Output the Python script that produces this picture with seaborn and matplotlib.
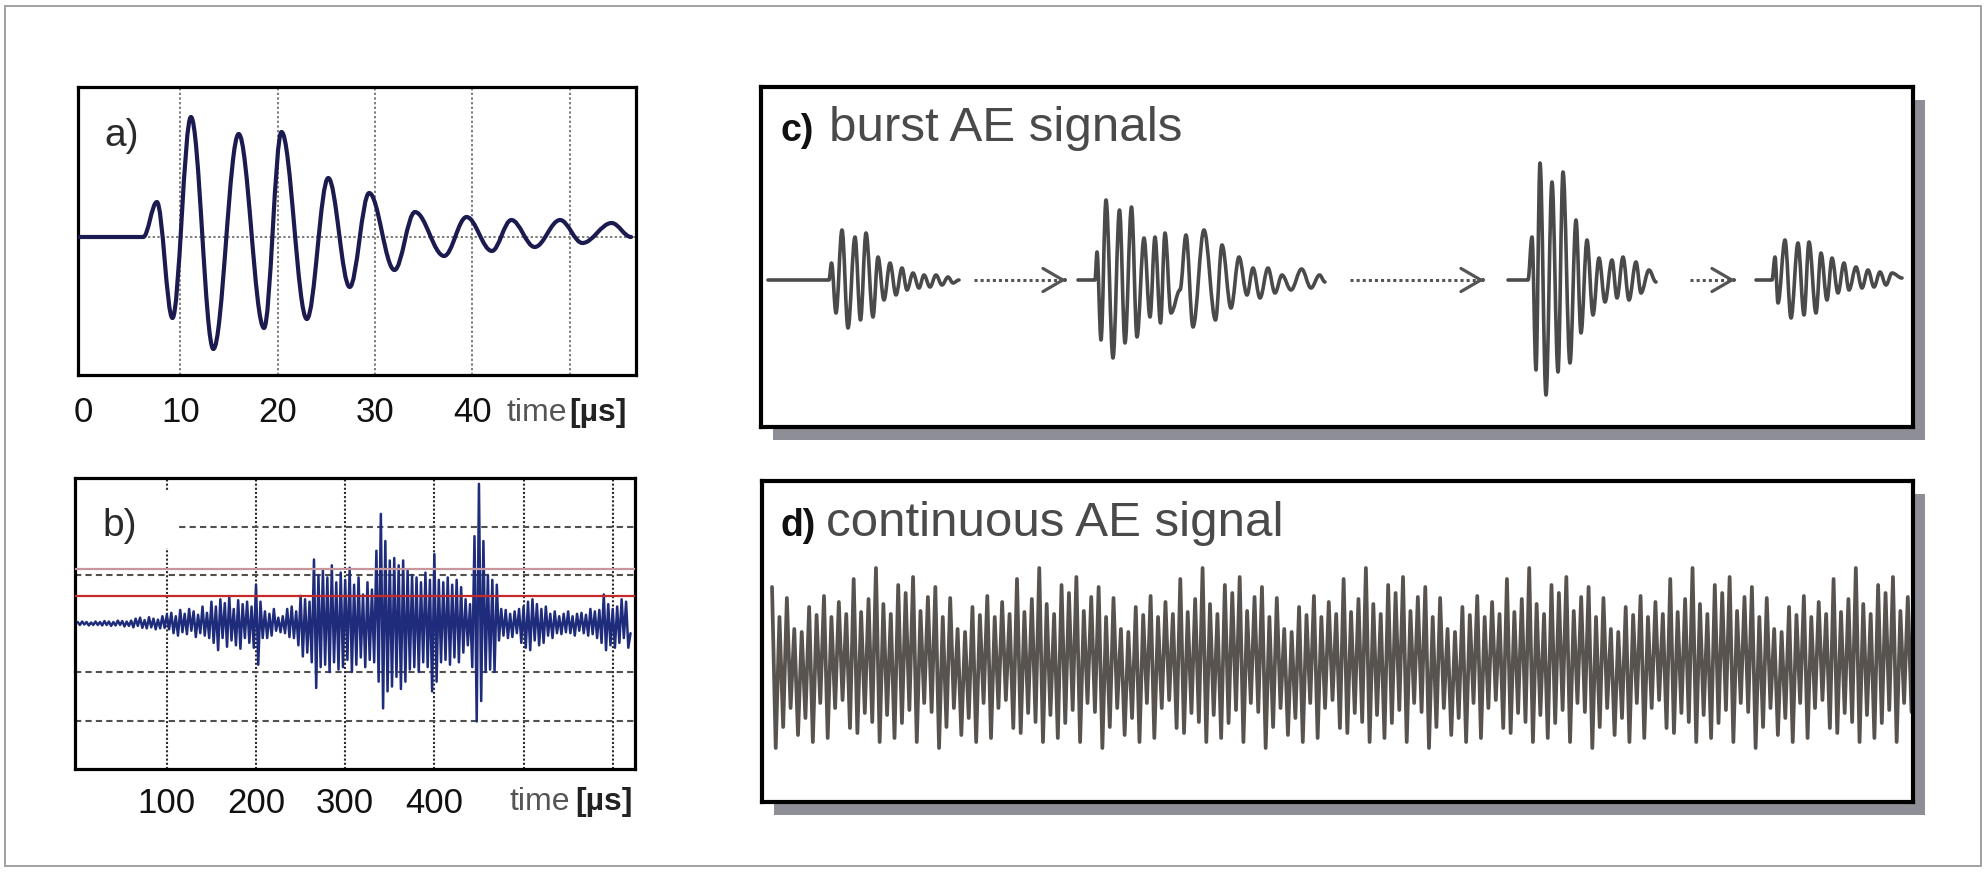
import matplotlib
matplotlib.use("Agg")
import matplotlib.pyplot as plt
import numpy as np
import seaborn as sns
from matplotlib.path import Path
from matplotlib.patches import PathPatch, Rectangle

# ---- a) single decaying AE hit: extrema (time in us, amplitude in px) ----
a_time = [-0.5, 6.2, 7.6, 9.2, 11.1, 13.4, 16.0, 18.6, 20.4, 23.0, 25.2, 27.4, 29.4,
          32.0, 34.1, 37.1, 39.4, 42.0, 44.0, 46.4, 49.0, 51.3, 54.3, 56.3]
a_amp = [0, 0, 35, -81, 120, -112, 103, -91, 105, -82, 59, -50, 44,
         -33, 25, -19, 20, -14, 17, -10, 17, -6, 14, 0]
a_ticks = [0, 10, 20, 30, 40]
a_grid = [10, 20, 30, 40, 50]

# ---- b) recorded signal, one sample every 2.5 us (grid units) ----
b_step = 2.5
b_values = [
    0.03, -0.03, 0.04, -0.02, 0.03, -0.04, 0.02, -0.03, 0.04, -0.03, 0.03, -0.04,
    0.05, -0.03, 0.04, -0.05, 0.03, -0.04, 0.06, -0.03, 0.05, -0.06, 0.04, -0.05,
    0.06, -0.08, 0.10, -0.05, 0.12, -0.09, 0.07, -0.10, 0.13, -0.08, 0.10, -0.12,
    0.08, -0.10, 0.15, -0.09,
    0.18, -0.12, 0.22, -0.20, 0.15, -0.25, 0.28, -0.18, 0.20, -0.22, 0.30, -0.15,
    0.25, -0.28, 0.18, -0.20, 0.35, -0.25, 0.22, -0.30,
    0.45, -0.40, 0.35, -0.55, 0.50, -0.30, 0.42, -0.48, 0.55, -0.35, 0.30, -0.45,
    0.48, -0.52, 0.40, -0.30, 0.45, -0.40,
    0.35, -0.50, 0.80, -0.85, 0.45, -0.30, 0.25,
    -0.30, 0.20, -0.25, 0.30, -0.15, 0.12, -0.18, 0.15, -0.20, 0.30, -0.28, 0.35, -0.30, 0.25,
    -0.45, 0.57, -0.68, 0.50, -0.60, 0.45,
    -0.80, 1.32, -1.33, 1.00, -0.90,
    1.10, -0.85, 0.95, -1.00, 1.20, -0.80, 0.85, -0.95, 1.05, -0.90, 0.90, -0.75,
    1.15, -1.00, 0.80, -0.85, 0.95,
    -0.70, 0.60, -0.90, 0.85, -0.75, 0.70, -0.80,
    1.50, -1.20, 2.26, -1.75, 1.70, -1.40, 1.30,
    -1.30, 1.35, -1.10, 1.20, -1.35, 1.30, -1.20, 1.10,
    -0.95, 1.00, -0.90, 0.95, -1.00, 0.85, -0.80, 1.05, -0.90, 0.90,
    -1.40, 1.43, -1.20,
    0.90, -0.80, 0.85, -0.75, 0.95, -0.85, 0.80, -0.70, 0.90, -0.80, 0.75, -0.60,
    0.50, -0.45, 0.40,
    -0.90, 1.80, -2.02, 2.88, -1.60, 1.70,
    -1.00, 1.00, -0.95, 0.90, -1.00, 0.80,
    -0.35, 0.30, -0.25, 0.28, -0.30, 0.20, -0.28, 0.25, -0.20, 0.30,
    -0.40, 0.35, -0.50, 0.45, -0.55, 0.50, -0.35, 0.40, -0.45, 0.30, -0.40, 0.35,
    -0.25, 0.20, -0.30, 0.25, -0.20, 0.15, -0.22, 0.20, -0.18, 0.25, -0.20, 0.15,
    -0.25, 0.20, -0.15, 0.22, -0.20, 0.18, -0.25, 0.30, -0.22, 0.25, -0.30, 0.28,
    -0.40, 0.60, -0.55, 0.40,
    -0.45, 0.30, -0.50, 0.35, -0.40, 0.50, -0.30, 0.45, -0.50, -0.20,
]
b_ticks = [100, 200, 300, 400]
b_vgrid = [100, 200, 300, 400, 500, 600]
b_hgrid = [-2, -1, 1, 2]
b_thresholds = [1.13, 0.565]

# ---- c) four burst signals: extrema (x in px along the strip, amplitude in px) ----
c_bursts = [
    ([768, 829, 831.5, 836, 842, 848, 855, 860.5, 866, 873, 878, 884, 890, 896, 902,
      907, 913, 919, 924, 930, 936, 942, 948, 953, 959],
     [0, 0, 17, -33, 50, -48, 43, -40, 47, -37, 23, -20, 17, -15, 12,
      -10, 7, -8, 5, -7, 5, -5, 3, -3, 0]),
    ([1078, 1095, 1097, 1101, 1106, 1113, 1119.5, 1125, 1131.5, 1137, 1144, 1150, 1155,
      1160.5, 1165, 1171, 1180, 1186, 1193, 1204, 1215.5, 1222, 1231, 1239, 1247, 1253,
      1260, 1268, 1275, 1282, 1291, 1301.6, 1311, 1319.5, 1325],
     [0, 0, 28, -60, 80, -78, 70, -63, 73, -57, 42, -37, 43,
      -43, 47, -33, -10, 45, -47, 50, -40, 35, -28, 23, -15, 12,
      -18, 12, -13, 5, -10, 11, -8, 5, -2]),
    ([1508, 1528, 1532, 1536, 1540, 1546, 1552, 1558, 1563, 1570, 1576, 1581, 1587, 1593,
      1599, 1605, 1612, 1617, 1623, 1629, 1636, 1641, 1649, 1656],
     [0, 0, 43, -90, 117, -115, 98, -92, 108, -83, 60, -53, 40, -35,
      22, -22, 20, -18, 23, -20, 18, -13, 10, -2]),
    ([1756, 1772, 1775, 1778, 1785, 1791, 1798, 1804, 1809, 1816, 1821, 1827, 1832, 1838,
      1844, 1849, 1856, 1862, 1868, 1874, 1880, 1886, 1892, 1902],
     [0, 0, 23, -23, 40, -38, 37, -35, 38, -33, 27, -20, 22, -13,
      17, -10, 13, -8, 10, -7, 8, -5, 7, 2]),
]
arrow_start = [974, 1350, 1690]
arrow_end = [1066, 1484, 1735]

# ---- d) continuous signal, alternating peaks / troughs (px) ----
d_values = [
    73, -88, 43, -67, 62, -48, 31, -75, 28, -58, 53, -82, 45, -43, 64, -78, 43, -48, 58, -40,
    46, -68, 81, -73, 48, -53, 61, -62,
    92, -82, 56, -55, 46, -78, 75, -63, 67, -50, 83, -82, 49, -43, 63, -52, 73, -88, 43, -67,
    62, -48, 31, -75, 28, -58, 53, -82, 45, -43, 64, -78, 43, -48, 58, -40, 46, -68, 81, -73,
    48, -53, 61, -62,
    92, -82, 56, -55, 46, -78, 75, -63, 67, -50, 83, -82, 49, -43, 63, -52, 73, -88, 43, -67,
    62, -48, 31, -75, 28, -58, 53, -82, 45, -43, 64, -78, 43, -48, 58, -40, 46, -68, 81, -73,
    48, -53, 61, -62,
    92, -82, 56, -55, 46, -78, 75, -63, 67, -50, 83, -82, 49, -43, 63, -52, 73, -88, 43, -67,
    62, -48, 31, -75, 28, -58, 53, -82, 45, -43, 64, -78, 43, -48, 58, -40, 46, -68, 81, -73,
    48, -53, 61, -62,
    92, -82, 56, -55, 46, -78, 75, -63, 67, -50, 83, -82, 49, -43, 63, -52, 73, -88, 43, -67,
    62, -48, 31, -75, 28, -58, 53, -82, 45, -43, 64, -78, 43, -48, 58, -40, 46, -68, 81, -73,
    48, -53, 61, -62,
    92, -82, 56, -55, 46, -78, 75, -63, 67, -50, 83, -82, 49, -43, 63, -52, 73, -88, 43, -67,
    62, -48, 31, -75, 28, -58, 53, -82, 45, -43, 64, -78, 43, -48, 58, -40, 46, -68, 81, -73,
    48, -53, 61, -62,
    92, -82, 56, -55, 46, -78, 75, -63, 67, -50, 83, -82, 49, -43, 63, -52, 73, -88, 43, -67,
    62, -48, 31, -75, 28, -58, 53, -82, 45, -43, 64, -78, 43, -48, 58, -40, 46, -68, 81, -73,
    48, -53, 61, -62,
    92, -82, 56, -55, 46, -78, 75, -63, 67, -50, 83, -82, 49, -43, 63, -52,
]

sns.set_theme(style="white")
plt.rcParams["font.family"] = ["Liberation Sans", "DejaVu Sans"]

W, H = 1988, 875
fig = plt.figure(figsize=(W / 100, H / 100), dpi=100, facecolor="white")


def box(x0, y0, x1, y1):
    return [x0 / W, 1 - y1 / H, (x1 - x0) / W, (y1 - y0) / H]


def fig_text(x, y, s, **kw):
    fig.text(x / W, 1 - y / H, s, **kw)


def smooth_trace(ax, xs, ys, color, lw):
    # horizontal tangents at every extremum, like the hand-drawn traces
    verts = [(xs[0], ys[0])]
    codes = [Path.MOVETO]
    for x0, y0, x1, y1 in zip(xs[:-1], ys[:-1], xs[1:], ys[1:]):
        dx = (x1 - x0) * 0.36
        verts += [(x0 + dx, y0), (x1 - dx, y1), (x1, y1)]
        codes += [Path.CURVE4] * 3
    ax.add_patch(PathPatch(Path(verts, codes), fill=False, edgecolor=color, lw=lw,
                           capstyle="round", joinstyle="round", zorder=3))


def frame(ax, lw):
    for sp in ax.spines.values():
        sp.set_visible(True)
        sp.set_color("black")
        sp.set_linewidth(lw)


# ---------------- a) ----------------
ax_a = fig.add_axes(box(78, 87, 636, 375))
ax_a.set_xlim(-0.5, 56.8)
ax_a.set_ylim(-138, 150)
for g in a_grid:
    ax_a.axvline(g, color="#7d7d7d", lw=1.4, ls=(0, (1.2, 1.2)), zorder=1)
ax_a.axhline(0, color="#7d7d7d", lw=1.4, ls=(0, (1.2, 1.2)), zorder=1)
smooth_trace(ax_a, a_time, a_amp, "#1b1b50", 3.0)
ax_a.set_xticks(a_ticks)
ax_a.set_xticklabels([str(t) for t in a_ticks])
ax_a.set_yticks([])
ax_a.tick_params(axis="x", length=0, pad=15, labelsize=25, labelcolor="#111111")
frame(ax_a, 2.3)
fig_text(104, 136, "a)", size=28, color="#2a2a2a", va="center", ha="left")
fig_text(567, 413, "time", size=23, color="#555555", va="center", ha="right")
fig_text(569, 413, "[µs]", size=23, color="#222222", weight="bold", va="center", ha="left")

# ---------------- b) ----------------
ax_b = fig.add_axes(box(75, 478, 635, 769))
b_time = np.arange(len(b_values)) * b_step
ax_b.set_xlim(-3, 625)
ax_b.set_ylim(-3, 3)
for g in b_vgrid:
    ax_b.axvline(g, color="#2a2a2a", lw=1.5, ls=(0, (1, 1)), zorder=1)
for g in b_hgrid:
    ax_b.axhline(g, color="#505050", lw=1.5, ls=(0, (3, 2)), zorder=1)
ax_b.add_patch(Rectangle((0.004, 0.759), 0.18, 0.2, transform=ax_b.transAxes,
                         facecolor="white", edgecolor="none", zorder=2))
sns.lineplot(x=b_time, y=b_values, ax=ax_b, color="#1f2c7c", lw=1.8,
             estimator=None, sort=False, zorder=3)
ax_b.axhline(b_thresholds[0], color="#c7959c", lw=1.6, zorder=4)
ax_b.axhline(b_thresholds[1], color="#c42a2a", lw=1.6, zorder=4)
ax_b.set_xticks(b_ticks)
ax_b.set_xticklabels([str(t) for t in b_ticks])
ax_b.set_yticks([])
ax_b.tick_params(axis="x", length=0, pad=13, labelsize=25, labelcolor="#111111")
frame(ax_b, 2.3)
fig_text(102, 526, "b)", size=28, color="#2a2a2a", va="center", ha="left")
fig_text(570, 802, "time", size=23, color="#555555", va="center", ha="right")
fig_text(575, 802, "[µs]", size=23, color="#222222", weight="bold", va="center", ha="left")

# ---------------- c) ----------------
fig.patches.append(Rectangle(((761 + 12) / W, 1 - (427 + 13) / H), (1913 - 761) / W,
                             (427 - 87) / H, transform=fig.transFigure,
                             facecolor="#8e8f96", edgecolor="none", zorder=-1))
ax_c = fig.add_axes(box(761, 87, 1913, 427))
ax_c.set_facecolor("white")
ax_c.set_xlim(761, 1913)
ax_c.set_ylim(-147, 193)
for xs, ys in c_bursts:
    smooth_trace(ax_c, xs, ys, "#4a4a4a", 2.6)
for x0, x1 in zip(arrow_start, arrow_end):
    ax_c.plot([x0, x1 - 3], [0, 0], color="#555555", lw=2.2, ls=(0, (1, 1)),
              dash_capstyle="butt")
    ax_c.annotate("", xy=(x1, 0), xytext=(x1 - 1, 0),
                  arrowprops=dict(arrowstyle="->,head_length=0.55,head_width=0.32",
                                  color="#555555", lw=2.3, mutation_scale=26,
                                  shrinkA=0, shrinkB=0))
ax_c.set_xticks([])
ax_c.set_yticks([])
frame(ax_c, 3.0)
fig_text(780, 141, "c)", size=27, weight="bold", color="#111111", va="baseline", ha="left")
fig_text(829, 141, "burst AE signals", size=35.5, color="#4a4a4a", va="baseline", ha="left")

# ---------------- d) ----------------
fig.patches.append(Rectangle(((762 + 12) / W, 1 - (802 + 13) / H), (1913 - 762) / W,
                             (802 - 481) / H, transform=fig.transFigure,
                             facecolor="#8e8f96", edgecolor="none", zorder=-1))
ax_d = fig.add_axes(box(762, 481, 1913, 802))
ax_d.set_facecolor("white")
d_index = np.arange(len(d_values))
sns.lineplot(x=d_index, y=d_values, ax=ax_d, color="#58534f", lw=2.7,
             estimator=None, sort=False)
ax_d.set_xlim(-2.7, 307.4)
ax_d.set_ylim(-142, 179)
ax_d.set_xticks([])
ax_d.set_yticks([])
frame(ax_d, 3.0)
fig_text(780, 536, "d)", size=27, weight="bold", color="#111111", va="baseline", ha="left")
fig_text(826, 536, "continuous AE signal", size=35.5, color="#4a4a4a", va="baseline",
         ha="left")

# outer border
fig.patches.append(Rectangle((5 / W, 1 - 866 / H), (1981 - 5) / W, (866 - 6) / H,
                             transform=fig.transFigure, fill=False, edgecolor="#9a9a9a",
                             lw=1.3, zorder=10))

fig.savefig("out.png", dpi=100)
